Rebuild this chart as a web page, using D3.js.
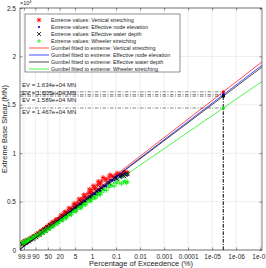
<!DOCTYPE html>
<html>
<head>
<meta charset="utf-8">
<script src="https://cdn.jsdelivr.net/npm/d3@7"></script>
<style>
  body { margin: 0; background: #fff; }
  svg { display: block; }
  text { font-family: "Liberation Sans", Arial, sans-serif; fill: #262626; }
</style>
</head>
<body>
<div id="chart"></div>
<script>
// exceedance probability (%) of the empirical extremes, two interleaved samples
const exceedPctA = [99.97, 99.9, 99.5, 99, 98, 97, 95, 93, 90, 85, 80, 75, 70, 65, 60, 55, 50, 45, 40, 35,
  30, 25, 20, 17, 14, 12, 10, 8, 6, 5, 4, 3, 2.5, 2, 1.5, 1.2, 1, 0.8, 0.6, 0.5, 0.4, 0.3, 0.2, 0.15, 0.1,
  0.07, 0.05, 0.04, 0.033];
const exceedPctB = [99.95, 99.8, 99.7, 99.3, 98.5, 96, 94, 92, 88, 82, 78, 72, 68, 62, 58, 52, 48, 42, 38, 32,
  28, 22, 18, 15, 13, 11, 9, 7, 5.5, 4.5, 3.5, 2.8, 2.2, 1.8, 1.3, 1.1, 0.9, 0.7, 0.55, 0.45, 0.35, 0.25, 0.18,
  0.12, 0.09, 0.06, 0.045, 0.036];

// extreme base shear (MN)
const verticalA = [650, 780, 900, 980, 1080, 1150, 1260, 1340, 1450, 1590, 1710, 1830, 1940, 2050, 2160,
  2270, 2390, 2510, 2640, 2790, 2950, 3130, 3340, 3500, 3690, 3840, 4010, 4230, 4500, 4680, 4890, 5150, 5330,
  5560, 5830, 6050, 6230, 6450, 6720, 6900, 7120, 7350, 7520, 7640, 7760, 7830, 7900, 7960, 8010];
const verticalB = [850, 700, 1010, 820, 1180, 1090, 1420, 1280, 1640, 1560, 1890, 1800, 2110, 2010, 2340, 2230,
  2580, 2470, 2850, 2760, 3160, 3110, 3610, 3480, 3950, 3780, 4330, 4200, 4820, 4600, 5280, 5050, 5720, 5480,
  6280, 5950, 6650, 6380, 7100, 6830, 7500, 7260, 7780, 7550, 7950, 7700, 8060, 7850];
const nodeElevA = [600, 720, 850, 930, 1030, 1100, 1200, 1280, 1380, 1510, 1620, 1730, 1830, 1930, 2030,
  2140, 2250, 2360, 2480, 2610, 2760, 2930, 3120, 3260, 3430, 3560, 3720, 3900, 4140, 4290, 4470, 4700, 4850,
  5030, 5260, 5450, 5600, 5790, 6030, 6190, 6380, 6620, 6960, 7200, 7450, 7600, 7720, 7800, 7870];
const nodeElevB = [760, 680, 930, 800, 1110, 1050, 1360, 1220, 1570, 1460, 1780, 1690, 1990, 1880, 2200, 2110,
  2430, 2340, 2670, 2600, 2960, 2940, 3360, 3260, 3640, 3520, 3960, 3900, 4370, 4260, 4750, 4650, 5140, 5000,
  5560, 5380, 5860, 5740, 6270, 6100, 6660, 6600, 7230, 7200, 7650, 7520, 7880, 7720];
const waterDepthA = [610, 730, 860, 940, 1040, 1110, 1210, 1290, 1390, 1520, 1630, 1740, 1840, 1940, 2040,
  2150, 2260, 2370, 2490, 2620, 2770, 2940, 3130, 3270, 3440, 3570, 3730, 3920, 4160, 4310, 4490, 4720, 4880,
  5060, 5290, 5480, 5630, 5820, 6050, 6200, 6390, 6610, 6930, 7150, 7400, 7560, 7680, 7760, 7820];
const waterDepthB = [560, 900, 720, 1030, 880, 1290, 1150, 1450, 1340, 1700, 1550, 1920, 1760, 2120, 1970, 2350,
  2200, 2580, 2440, 2840, 2720, 3190, 3120, 3520, 3380, 3800, 3700, 4200, 4090, 4560, 4470, 4970, 4840, 5330,
  5260, 5720, 5550, 6100, 5940, 6460, 6320, 6930, 6860, 7460, 7330, 7750, 7600, 7900];
const wheelerA = [700, 800, 920, 990, 1080, 1140, 1230, 1300, 1390, 1500, 1600, 1690, 1780, 1870, 1960,
  2060, 2160, 2260, 2370, 2490, 2620, 2770, 2950, 3080, 3230, 3350, 3490, 3660, 3880, 4010, 4180, 4390, 4530,
  4700, 4920, 5090, 5230, 5400, 5620, 5760, 5930, 6160, 6450, 6640, 6850, 6930, 6990, 7020, 7060];
const wheelerB = [880, 740, 1010, 850, 1170, 1080, 1390, 1230, 1560, 1450, 1760, 1640, 1940, 1810, 2120, 2010,
  2330, 2210, 2550, 2450, 2810, 2760, 3180, 3040, 3420, 3290, 3720, 3620, 4100, 3960, 4460, 4320, 4790, 4650,
  5200, 5010, 5490, 5350, 5860, 5690, 6230, 6150, 6710, 6580, 7030, 6820, 7130, 6920];

// Gumbel fits: value at the left and right axis limits, and extreme value at design exceedance
const xLimPct = [99.9958, 8.4e-8];
const fitStart = [100, 50, 80, 260];
const fitEnd = [19430, 19090, 18900, 17410];
const evPct = 3.42e-6;
const evValues = [16340, 16050, 15890, 14670];
const evLabelShift = [-7, -1.5, 3.5, 4];

const seriesNames = ["Vertical stretching", "Effective node elevation", "Effective water depth", "Wheeler stretching"];
const seriesColors = ["#ff0000", "#0000ff", "#000000", "#00ee00"];
const markerTypes = ["star", "dot", "cross", "plus"];

const tickPct = [99.9, 90, 50, 20, 5, 1, 0.1, 0.01, 0.001, 0.0001, 1e-5, 1e-6, 1e-7];
const tickLabels = ["99.9", "90", "50", "20", "5", "1", "0.1", "0.01", "0.001", "0.0001", "1e-05", "1e-06", "1e-07"];
const yTicks = [0, 5000, 10000, 15000, 20000, 25000];

const W = 266, H = 268;
const L = 20, R = 262, T = 8, B = 250;

// Gumbel probability paper: reduced variate of the exceedance percentage
const reduced = p => -Math.log(-Math.log(1 - p / 100));

const x = d3.scaleLinear().domain(xLimPct.map(reduced)).range([L, R]);
const y = d3.scaleLinear().domain([0, 25000]).range([B, T]);
const px = p => x(reduced(p));

const svg = d3.select("#chart").append("svg").attr("width", W).attr("height", H);

svg.append("defs").append("clipPath").attr("id", "plot")
  .append("rect").attr("x", L).attr("y", T).attr("width", R - L).attr("height", B - T);

// grid
const grid = svg.append("g").attr("stroke", "#e3e3e3").attr("stroke-width", 0.6);
grid.selectAll("line.v").data(tickPct).enter().append("line")
  .attr("x1", d => px(d)).attr("x2", d => px(d)).attr("y1", T).attr("y2", B);
grid.selectAll("line.h").data(yTicks).enter().append("line")
  .attr("y1", d => y(d)).attr("y2", d => y(d)).attr("x1", L).attr("x2", R);

// axes
const fmtX = (d, i) => tickLabels[i];
const axBottom = svg.append("g").attr("transform", `translate(0,${B})`)
  .call(d3.axisBottom(x).tickValues(tickPct.map(reduced)).tickFormat(fmtX).tickSizeInner(-2.5).tickSizeOuter(0).tickPadding(4));
const axTop = svg.append("g").attr("transform", `translate(0,${T})`)
  .call(d3.axisTop(x).tickValues(tickPct.map(reduced)).tickFormat("").tickSizeInner(-2.5).tickSizeOuter(0));
const axLeft = svg.append("g").attr("transform", `translate(${L},0)`)
  .call(d3.axisLeft(y).tickValues(yTicks).tickFormat(d => d / 1e4).tickSizeInner(-2.5).tickSizeOuter(0).tickPadding(4));
const axRight = svg.append("g").attr("transform", `translate(${R},0)`)
  .call(d3.axisRight(y).tickValues(yTicks).tickFormat("").tickSizeInner(-2.5).tickSizeOuter(0));
[axBottom, axTop, axLeft, axRight].forEach(g => {
  g.select(".domain").remove();
  g.selectAll("line").attr("stroke", "#262626").attr("stroke-width", 0.5);
  g.selectAll("text").attr("font-size", 6.5).attr("fill", "#262626").style("font-family", "Liberation Sans, Arial, sans-serif");
});

svg.append("text").attr("x", L).attr("y", 5).attr("font-size", 5.5)
  .text("\u00d710").append("tspan").attr("dy", -2.5).attr("font-size", 4).text("4");

// markers
function marker(type, s) {
  const h = s / 2;
  if (type === "star") return `M${-h},0L${h},0M0,${-h}L0,${h}M${-h * 0.7},${-h * 0.7}L${h * 0.7},${h * 0.7}M${-h * 0.7},${h * 0.7}L${h * 0.7},${-h * 0.7}`;
  if (type === "cross") return `M${-h},${-h}L${h},${h}M${-h},${h}L${h},${-h}`;
  if (type === "plus") return `M${-h},0L${h},0M0,${-h}L0,${h}`;
  return "";
}

const plot = svg.append("g").attr("clip-path", "url(#plot)");
const seriesA = [verticalA, nodeElevA, waterDepthA, wheelerA];
const seriesB = [verticalB, nodeElevB, waterDepthB, wheelerB];
const markerSize = [5, 0, 4, 4.5];

seriesA.forEach((valsA, k) => {
  const g = plot.append("g");
  const pts = exceedPctA.map((p, i) => [px(p), y(valsA[i])])
    .concat(exceedPctB.map((p, i) => [px(p), y(seriesB[k][i])]));
  if (markerTypes[k] === "dot") {
    g.selectAll("circle").data(pts).enter().append("circle")
      .attr("cx", d => d[0]).attr("cy", d => d[1]).attr("r", 1.1).attr("fill", seriesColors[k]);
  } else {
    g.selectAll("path").data(pts).enter().append("path")
      .attr("transform", d => `translate(${d[0]},${d[1]})`)
      .attr("d", marker(markerTypes[k], markerSize[k]))
      .attr("stroke", seriesColors[k]).attr("stroke-width", 0.75).attr("fill", "none");
  }
});

// fitted lines
const line = d3.line().x(d => px(d[0])).y(d => y(d[1]));
seriesColors.forEach((c, k) => {
  plot.append("path")
    .attr("d", line([[xLimPct[0], fitStart[k]], [xLimPct[1], fitEnd[k]]]))
    .attr("stroke", c).attr("stroke-width", 0.7).attr("fill", "none");
});

// design extreme values
const evX = px(evPct);
evValues.forEach((v, k) => {
  plot.append("line").attr("x1", L).attr("x2", evX).attr("y1", y(v)).attr("y2", y(v))
    .attr("stroke", "#333").attr("stroke-width", 0.6).attr("stroke-dasharray", "3.5,1.5,1,1.5");
  plot.append("line").attr("x1", evX).attr("x2", evX).attr("y1", B).attr("y2", y(v))
    .attr("stroke", "#333").attr("stroke-width", 0.6).attr("stroke-dasharray", "3.5,1.5,1,1.5");
  plot.append("circle").attr("cx", evX).attr("cy", y(v)).attr("r", 1.6).attr("fill", seriesColors[k]);
  svg.append("text").attr("x", L + 2).attr("y", y(v) + evLabelShift[k]).attr("dy", "0.35em")
    .attr("font-size", 6).attr("fill", "#000")
    .text(`EV = ${d3.format(".3e")(v).replace("e+4", "e+04")} MN`);
});

// frame
svg.append("rect").attr("x", L).attr("y", T).attr("width", R - L).attr("height", B - T)
  .attr("fill", "none").attr("stroke", "#262626").attr("stroke-width", 0.6);

// labels
svg.append("text").attr("x", (L + R) / 2).attr("y", 266).attr("text-anchor", "middle")
  .attr("font-size", 7.5).text("Percentage of Exceedence (%)");
svg.append("text").attr("transform", `translate(7,${(T + B) / 2}) rotate(-90)`).attr("text-anchor", "middle")
  .attr("font-size", 7.5).text("Extreme Base Shear (MN)");

// legend
const lg = svg.append("g");
lg.append("rect").attr("x", 25).attr("y", 14).attr("width", 155).attr("height", 58)
  .attr("fill", "#fff").attr("stroke", "#262626").attr("stroke-width", 0.5);
const legendRows = seriesNames.map((n, k) => ({ text: "Extreme values: " + n, k, kind: "marker" }))
  .concat(seriesNames.map((n, k) => ({ text: "Gumbel fitted to extreme: " + n, k, kind: "line" })));
legendRows.forEach((row, i) => {
  const ry = 20 + i * 7;
  const c = seriesColors[row.k];
  if (row.kind === "line") {
    lg.append("line").attr("x1", 29).attr("x2", 49).attr("y1", ry).attr("y2", ry)
      .attr("stroke", c).attr("stroke-width", 0.7);
  } else if (markerTypes[row.k] === "dot") {
    lg.append("circle").attr("cx", 39).attr("cy", ry).attr("r", 1.1).attr("fill", c);
  } else {
    lg.append("path").attr("transform", `translate(39,${ry})`)
      .attr("d", marker(markerTypes[row.k], markerTypes[row.k] === "star" ? 5 : 4))
      .attr("stroke", c).attr("stroke-width", 0.8).attr("fill", "none");
  }
  lg.append("text").attr("x", 51).attr("y", ry).attr("dy", "0.35em").attr("font-size", 5.4)
    .attr("fill", "#000").text(row.text);
});
</script>
</body>
</html>
